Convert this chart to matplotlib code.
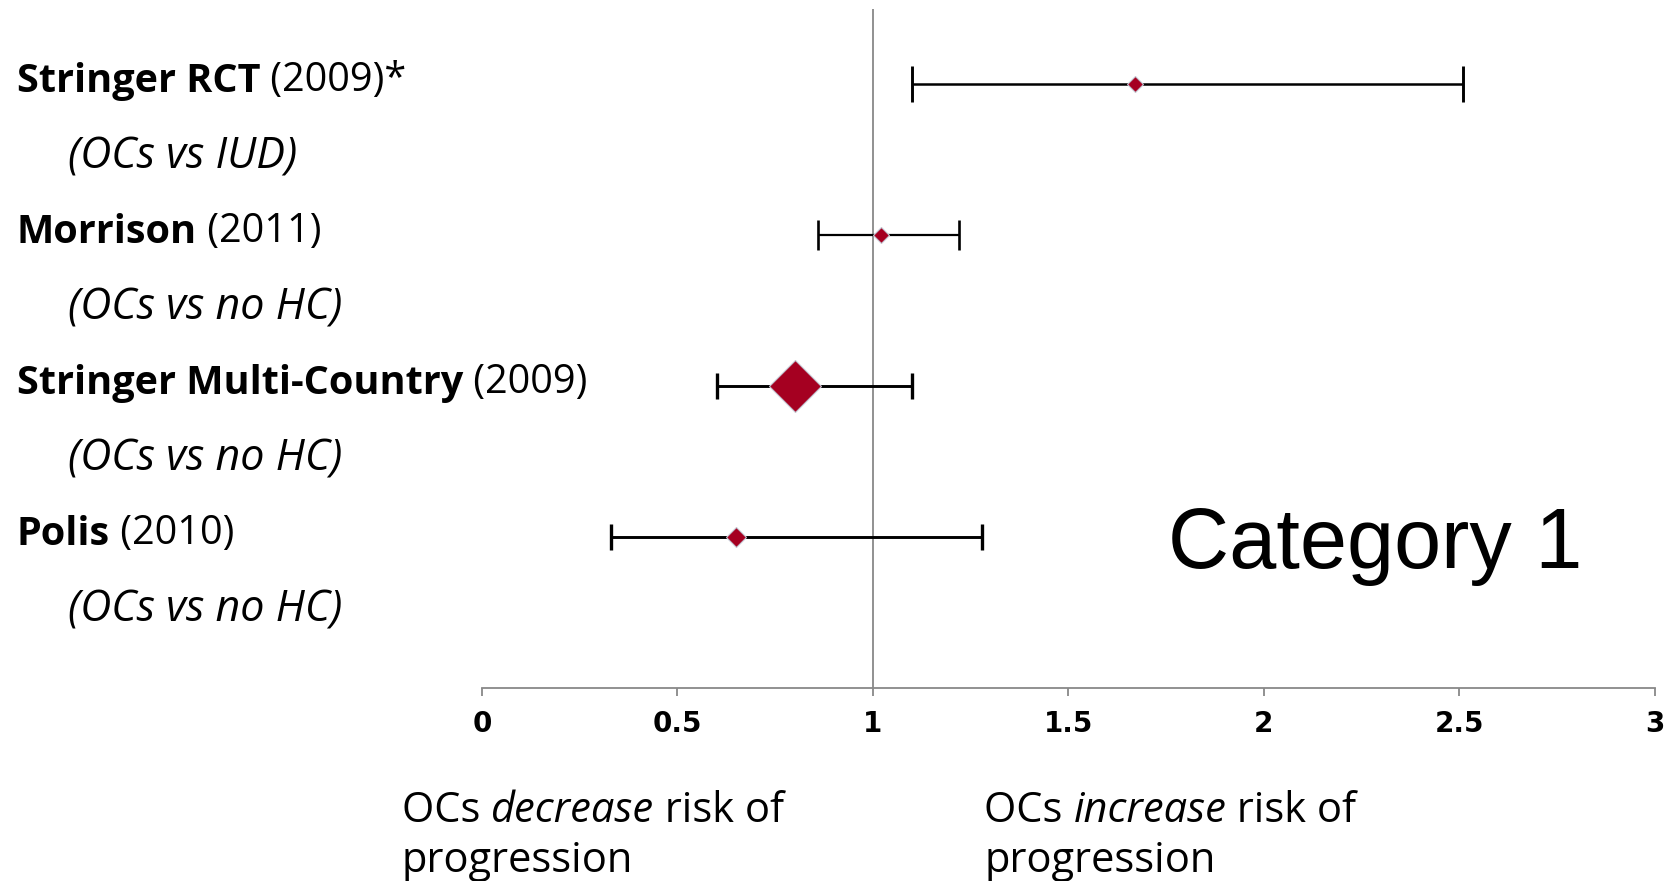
import matplotlib
matplotlib.use("Agg")
import matplotlib.pyplot as plt
import matplotlib.transforms as mtransforms

# forest plot values: point estimate with lower/upper confidence limits
studies = ["Stringer RCT", "Morrison", "Stringer Multi-Country", "Polis"]
years = ["(2009)*", "(2011)", "(2009)", "(2010)"]
comparisons = ["(OCs vs IUD)", "(OCs vs no HC)", "(OCs vs no HC)", "(OCs vs no HC)"]
estimates = [1.67, 1.02, 0.80, 0.65]
lower = [1.10, 0.86, 0.60, 0.33]
upper = [2.51, 1.22, 1.10, 1.28]
xticks = [0, 0.5, 1, 1.5, 2, 2.5, 3]

# drawing styles per row
marker_ms = [8.5, 8, 26, 10.5]
bar_lw = [1.8, 1.6, 2.1, 2.1]
cap_size = [13, 11, 9.5, 9.5]

red = "#A50021"
grey = "#888888"
label_font = "Open Sans"

fig = plt.figure(figsize=(16.68, 8.81), dpi=100)
ax = fig.add_axes([0.289, 0.219, 0.703, 0.771])

ypos = [4 - i for i in range(len(studies))]

ax.axvline(1, color=grey, lw=1.3, zorder=1)

for i, y in enumerate(ypos):
    ax.errorbar(estimates[i], y,
                xerr=[[estimates[i] - lower[i]], [upper[i] - estimates[i]]],
                fmt="none", ecolor="black", elinewidth=bar_lw[i],
                capsize=cap_size[i], capthick=bar_lw[i] + 0.3, zorder=2)
    ax.plot(estimates[i], y, marker="D", ms=marker_ms[i], color=red,
            mec="#c3c6d2", mew=0.8, zorder=3)

ax.set_xlim(0, 3)
ax.set_ylim(0, 4.5)
ax.set_xticks(xticks)
ax.set_xticklabels([f"{t:g}" for t in xticks], family="Liberation Sans Narrow",
                   fontsize=20, fontweight="bold")
ax.set_yticks([])
for side in ["left", "right", "top"]:
    ax.spines[side].set_visible(False)
ax.spines["bottom"].set_color(grey)
ax.spines["bottom"].set_linewidth(1.3)
ax.tick_params(axis="x", colors=grey, length=6, width=1.3, pad=10,
               labelcolor="black")

# study labels on the left: bold name, plain year, italic comparison below
trans = mtransforms.blended_transform_factory(fig.transFigure, ax.transData)
for i, y in enumerate(ypos):
    name = fig.text(0.010, y - 0.05, studies[i], transform=trans,
                    family=label_font, fontsize=28.5, fontweight="bold",
                    va="baseline")
    ax.annotate(" " + years[i], xy=(1, 0), xycoords=name, va="bottom",
                family=label_font, fontsize=28.5, annotation_clip=False)
    fig.text(0.041, y - 0.56, comparisons[i], transform=trans,
             family=label_font, fontsize=31, style="italic", va="baseline")

ax.text(0.585, 0.177, "Category 1", transform=ax.transAxes,
        family="Liberation Sans", fontsize=61, va="baseline")

# direction notes under the axis
def direction_note(x, word):
    first = fig.text(x, 0.067, "OCs ", family=label_font, fontsize=30,
                     va="baseline")
    mid = ax.annotate(word, xy=(1, 0), xycoords=first, va="bottom",
                      family=label_font, fontsize=30, style="italic",
                      annotation_clip=False)
    ax.annotate(" risk of", xy=(1, 0), xycoords=mid, va="bottom",
                family=label_font, fontsize=30, annotation_clip=False)
    fig.text(x, 0.010, "progression", family=label_font, fontsize=30,
             va="baseline")

direction_note(0.241, "decrease")
direction_note(0.590, "increase")

fig.savefig("out.png", dpi=100)
